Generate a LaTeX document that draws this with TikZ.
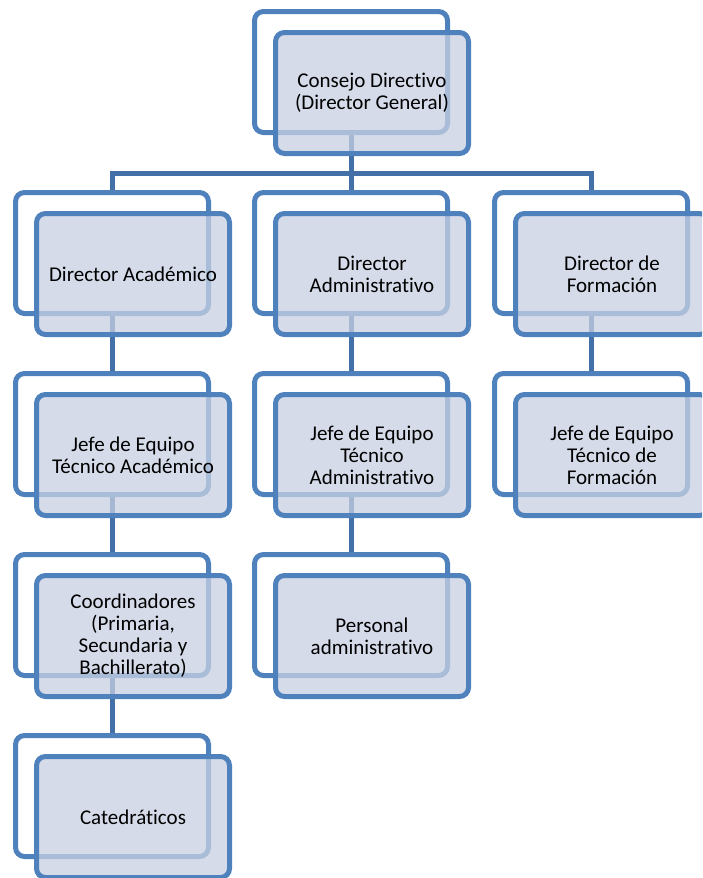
\documentclass[tikz,border=0pt]{standalone}
\usepackage{fontspec}
\setmainfont{Carlito}[Ligatures=NoCommon]
\usetikzlibrary{positioning,backgrounds}
\definecolor{frameblue}{RGB}{79,129,189}
\definecolor{linkblue}{RGB}{66,112,167}
\definecolor{cardfill}{RGB}{200,208,226}
\tikzset{
  backframe/.style={draw=frameblue,line width=5pt,rounded corners=9pt,
    minimum width=193pt,minimum height=121pt,inner sep=0pt},
  frontcard/.style={backframe,fill=cardfill,fill opacity=0.75,text opacity=1,
    align=center,text=black,font=\fontsize{21}{22}\selectfont},
  link/.style={draw=linkblue,line width=5pt},
}
\begin{document}
\begin{tikzpicture}[x=1pt,y=-1pt]
  \useasboundingbox (0,0) rectangle (702,878);
  \clip (0,0) rectangle (702,878);
  % back frames
  \node[backframe] (consejo-b) at (351,72) {};
  \node[backframe] (acad-b) at (112,253) {};
  \node[backframe] (admin-b) at (351,253) {};
  \node[backframe] (form-b) at (591,253) {};
  \node[backframe] (jefeacad-b) at (112,434) {};
  \node[backframe] (jefeadmin-b) at (351,434) {};
  \node[backframe] (jefeform-b) at (591,434) {};
  \node[backframe] (coord-b) at (112,615) {};
  \node[backframe] (personal-b) at (351,615) {};
  \node[backframe] (catedra-b) at (112,796) {};
  % front cards
  \node[frontcard] (consejo) at ([shift={(21,21)}]consejo-b) {Consejo Directivo\\(Director General)};
  \node[frontcard] (acad) at ([shift={(21,21)}]acad-b) {Director Académico};
  \node[frontcard] (admin) at ([shift={(21,21)}]admin-b) {Director\\Administrativo};
  \node[frontcard] (form) at ([shift={(21,21)}]form-b) {Director de\\Formación};
  \node[frontcard] (jefeacad) at ([shift={(21,21)}]jefeacad-b) {Jefe de Equipo\\Técnico Académico};
  \node[frontcard] (jefeadmin) at ([shift={(21,21)}]jefeadmin-b) {Jefe de Equipo\\Técnico\\Administrativo};
  \node[frontcard] (jefeform) at ([shift={(21,21)}]jefeform-b) {Jefe de Equipo\\Técnico de\\Formación};
  \node[frontcard] (coord) at ([shift={(21,21)}]coord-b) {Coordinadores\\(Primaria,\\Secundaria y\\Bachillerato)};
  \node[frontcard] (personal) at ([shift={(21,21)}]personal-b) {Personal\\administrativo};
  \node[frontcard] (catedra) at ([shift={(21,21)}]catedra-b) {Catedráticos};
  % connectors
  \coordinate (bar) at (0,173);
  \begin{scope}[on background layer]
    \fill[white] (0,0) rectangle (702,878);
    \draw[link] (consejo-b.south) -- (admin-b.north);
    \draw[link] (acad-b.north) -- (acad-b.north |- bar) -| (form-b.north);
    \draw[link] (acad-b.south) -- (jefeacad-b.north);
    \draw[link] (admin-b.south) -- (jefeadmin-b.north);
    \draw[link] (form-b.south) -- (jefeform-b.north);
    \draw[link] (jefeacad-b.south) -- (coord-b.north);
    \draw[link] (jefeadmin-b.south) -- (personal-b.north);
    \draw[link] (coord-b.south) -- (catedra-b.north);
  \end{scope}
\end{tikzpicture}
\end{document}
